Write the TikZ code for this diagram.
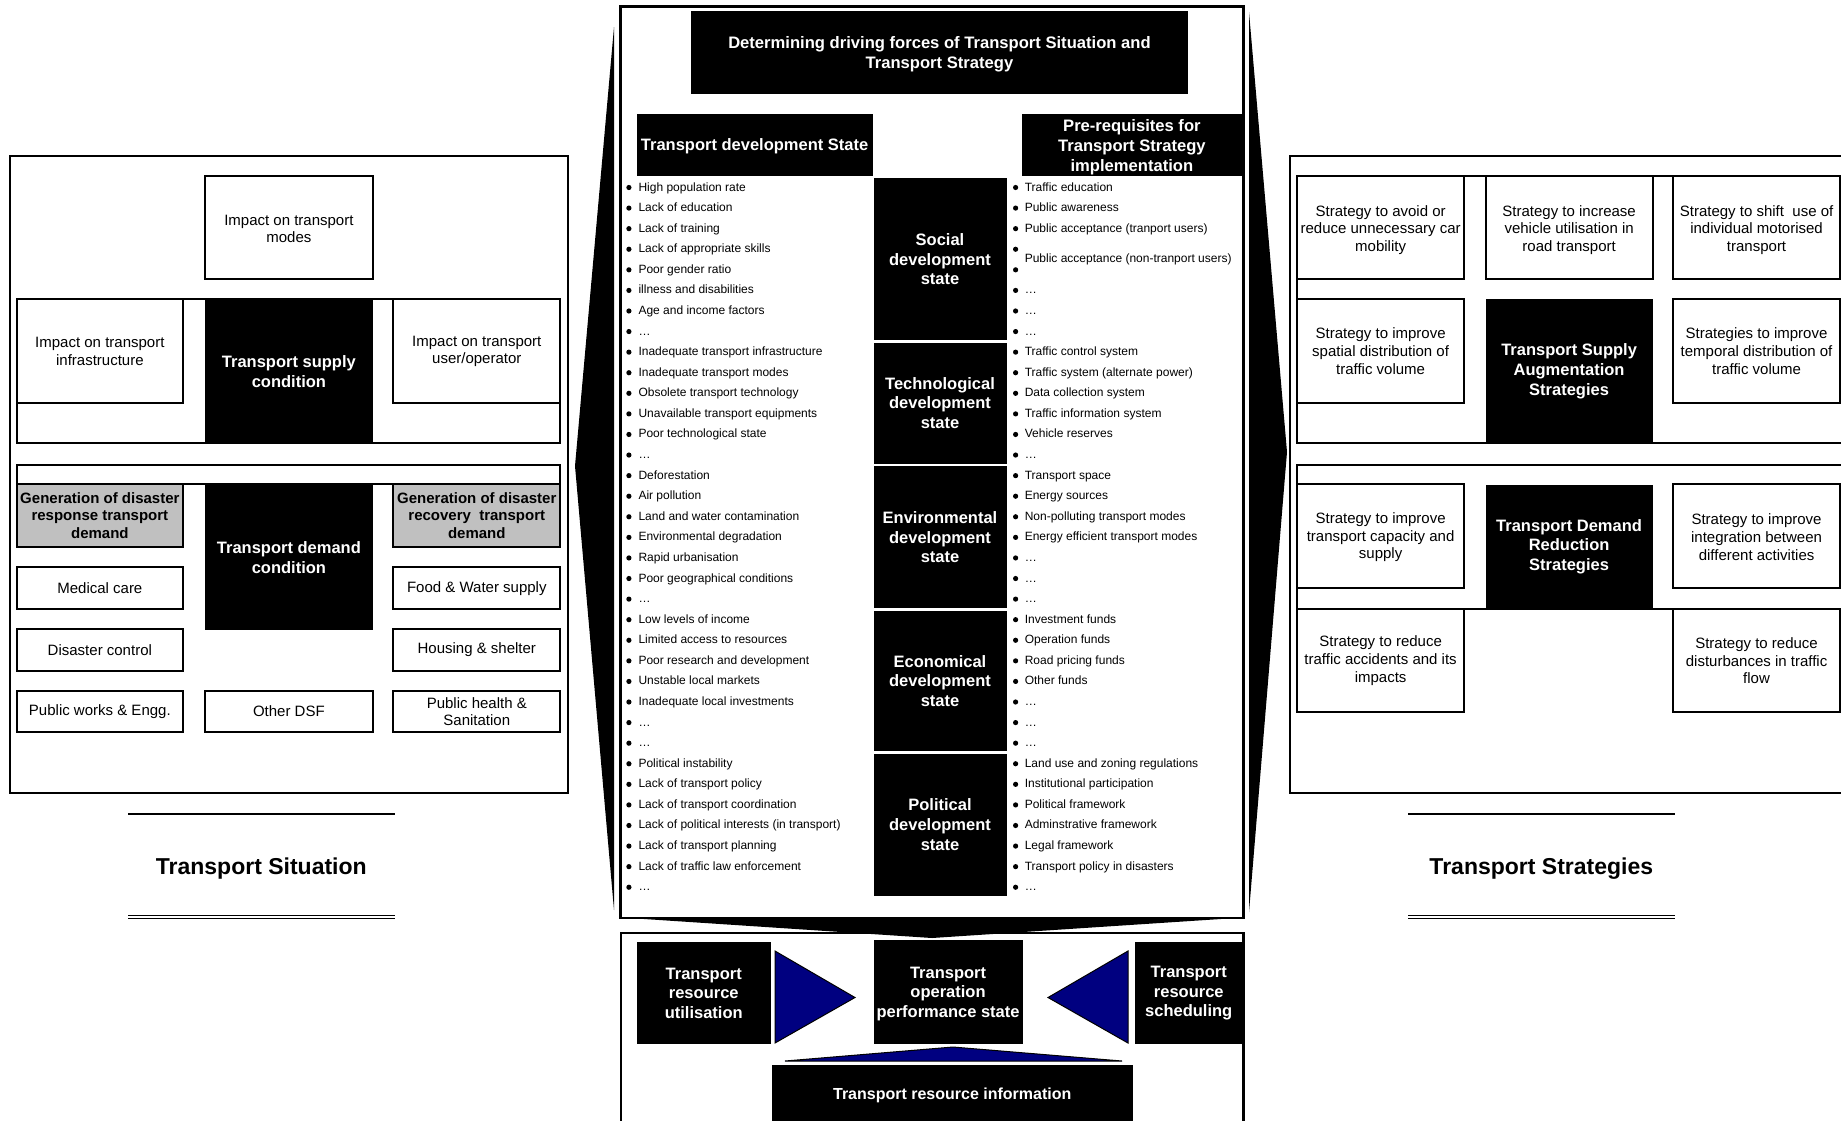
\documentclass[tikz,border=0pt]{standalone}
\usepackage{fontspec}
\setmainfont{Liberation Sans}
\definecolor{panelgray}{RGB}{192,192,192}
\definecolor{navyfill}{RGB}{0,0,128}
% box from corner (x2,y2) to (x3,y3): [text drop], style, name, x2, y2, x3, y3, text
\newcommand\boxat[8][0]{%
  \node[#2,minimum width={#6-#4},minimum height={#7-#5}] (#3) at ({(#4+#6)/2},{(#5+#7)/2}) {};
  \node[#2,draw=none,fill=none] (#3-text) at ([yshift=-#1pt]#3.center) {#8};}
\begin{document}
\begin{tikzpicture}[x=1pt,y=-1pt,
  panel/.style={draw=black,line width=2pt},
  wbox/.style={draw=black,line width=2pt,fill=white,inner sep=0.5pt,align=center,font=\fontsize{15}{17.7}\selectfont},
  bbox/.style={fill=black,text=white,inner sep=0.5pt,align=center,font=\bfseries\fontsize{16.5}{19.6}\selectfont},
  gbox/.style={wbox,fill=panelgray,font=\bfseries\fontsize{15}{17.3}\selectfont},
  listitem/.style={anchor=base west,inner sep=0pt,font=\fontsize{12}{14}\selectfont},
  bulletdot/.style={circle,fill=black,inner sep=0pt,minimum size=5.2pt},
  bluewedge/.style={fill=navyfill,draw=black,line width=1pt,line join=miter},
  heading/.style={anchor=base,inner sep=0pt,font=\bfseries\fontsize{23}{27}\selectfont},
  headrule/.style={draw=black,line width=1.3pt},
]
\useasboundingbox (0,0) rectangle (1841,1120);
\clip (0,0) rectangle (1841,1120);
\fill[white] (0,0) rectangle (1841,1120);

% ---------------- Transport situation (left panel) ----------------
\draw[panel] (10.4,155.7) rectangle (567.8,793.3);
\draw[panel] (16.6,299.3) rectangle (560.4,443.3);
\draw[panel] (16.6,465) rectangle (560.4,484.3);
\boxat[1.2]{wbox}{modes}{205.3}{176}{372.5}{279.3}{Impact on transport\\modes}
\boxat{wbox}{infra}{16.6}{299.3}{183.1}{403.3}{Impact on transport\\infrastructure}
\boxat{bbox}{supply}{205.3}{299.3}{372.5}{443.3}{Transport supply\\condition}
\boxat{wbox}{user}{393.2}{299.3}{560.4}{403.3}{Impact on transport\\user/operator}
\boxat{gbox}{response}{16.6}{484.3}{183.1}{546.7}{Generation of disaster\\response transport\\demand}
\boxat{bbox}{demand}{205.3}{485}{372.5}{630}{Transport demand\\condition}
\boxat{gbox}{recovery}{393.2}{484.3}{560.4}{546.7}{Generation of disaster\\recovery~ transport\\demand}
\boxat{wbox}{medical}{16.6}{567.3}{183.1}{609}{Medical care}
\boxat{wbox}{food}{393.2}{567.3}{560.4}{609}{Food \& Water supply}
\boxat{wbox}{control}{16.6}{629}{183.1}{670.7}{Disaster control}
\boxat{wbox}{housing}{393.2}{629}{560.4}{670.7}{Housing \& shelter}
\boxat{wbox}{works}{16.6}{690.7}{183.1}{732.3}{Public works \& Engg.}
\boxat{wbox}{otherdsf}{205.3}{690.7}{372.5}{732.3}{Other DSF}
\boxat{wbox}{health}{393.2}{690.7}{560.4}{732.3}{Public health \&\\Sanitation}

\draw[headrule] (128,814) -- (395,814);
\node[heading] (situation) at (261.3,874) {Transport Situation};
\draw[headrule,line width=1.1pt] (128,915.2) -- (395,915.2);
\draw[headrule,line width=1.1pt] (128,918.6) -- (395,918.6);

% ---------------- Transport strategies (right panel) ----------------
\draw[panel] (1290,155.5) rectangle (1860,793.3);
\draw[panel] (1297.2,176) rectangle (1860,443.3);
\draw[panel] (1297.2,465) rectangle (1860,609);
\boxat[2.2]{wbox}{avoid}{1297.2}{176}{1464}{279.3}{Strategy to avoid or\\reduce unnecessary car\\mobility}
\boxat[2.2]{wbox}{utilise}{1485.7}{176}{1652.5}{279.3}{Strategy to increase\\vehicle utilisation in\\road transport}
\boxat[2.2]{wbox}{shift}{1673.3}{176}{1839.8}{279.3}{Strategy to shift~ use of\\individual motorised\\transport}
\boxat{wbox}{spatial}{1297.2}{299.3}{1464}{403.3}{Strategy to improve\\spatial distribution of\\traffic volume}
\boxat{bbox}{augment}{1485.7}{299.3}{1652.5}{443.3}{Transport Supply\\Augmentation\\Strategies}
\boxat{wbox}{temporal}{1673.3}{299.3}{1839.8}{403.3}{Strategies to improve\\temporal distribution of\\traffic volume}
\boxat[1.2]{wbox}{capacity}{1297.2}{484.3}{1464}{587.7}{Strategy to improve\\transport capacity and\\supply}
\boxat{bbox}{reduction}{1485.7}{485}{1652.5}{608.3}{Transport Demand\\Reduction\\Strategies}
\boxat[1.2]{wbox}{integration}{1673.3}{484.3}{1839.8}{587.7}{Strategy to improve\\integration between\\different activities}
\boxat{wbox}{accidents}{1297.2}{609}{1464}{712.3}{Strategy to reduce\\traffic accidents and its\\impacts}
\boxat{wbox}{disturb}{1673.3}{609}{1839.8}{712.3}{Strategy to reduce\\disturbances in traffic\\flow}

\draw[headrule] (1408,814) -- (1674.6,814);
\node[heading] (strategies) at (1541.3,874) {Transport Strategies};
\draw[headrule,line width=1.1pt] (1408,915.2) -- (1674.6,915.2);
\draw[headrule,line width=1.1pt] (1408,918.6) -- (1674.6,918.6);

% ---------------- Driving forces (centre panel) ----------------
\fill[black] (614,27) -- (575,466) -- (614,910) -- cycle;
\fill[black] (1249,12) -- (1287,452) -- (1249,912) -- cycle;
\fill[black] (629,918) -- (1236,918) -- (932,938) -- cycle;

\boxat[1.8]{bbox,font=\bfseries\fontsize{16.6}{20}\selectfont}{title}{690.5}{11}{1188.4}{93.5}{Determining driving forces of Transport Situation and\\Transport Strategy}
\boxat[1]{bbox}{tds}{636.5}{114.3}{872.7}{176}{Transport development State}
\boxat[2.3]{bbox,font=\bfseries\fontsize{16.6}{20}\selectfont}{prereq}{1022}{114.3}{1241.8}{176}{Pre-requisites for\\Transport Strategy\\implementation}
\boxat{bbox}{social}{873.5}{178.3}{1006.5}{340.3}{Social\\development\\state}
\boxat{bbox}{techno}{873.5}{342.5}{1006.5}{463.5}{Technological\\development\\state}
\boxat{bbox}{environ}{873.5}{466}{1006.5}{608.3}{Environmental\\development\\state}
\boxat{bbox}{econ}{873.5}{610.5}{1006.5}{751}{Economical\\development\\state}
\boxat{bbox}{polit}{873.5}{753.5}{1006.5}{895.5}{Political\\development\\state}

% bulleted lists, one row every 20.58
\foreach \t [count=\i from 0] in {High population rate, Lack of education, Lack of training,
  Lack of appropriate skills, Poor gender ratio, illness and disabilities, Age and income factors, …,
  Inadequate transport infrastructure, Inadequate transport modes, Obsolete transport technology,
  Unavailable transport equipments, Poor technological state, …,
  Deforestation, Air pollution, Land and water contamination, Environmental degradation,
  Rapid urbanisation, Poor geographical conditions, …,
  Low levels of income, Limited access to resources, Poor research and development,
  Unstable local markets, Inadequate local investments, …, …,
  Political instability, Lack of transport policy, Lack of transport coordination,
  Lack of political interests (in transport), Lack of transport planning,
  Lack of traffic law enforcement, …} {
  \node[bulletdot] (LB\i) at (628.9,{186.7+20.58*\i+0.8}) {};
  \node[listitem] (L\i) at (638.3,{186.7+20.58*\i+4.3}) {\t};
}
\foreach \t [count=\i from 0] in {Traffic education, Public awareness, Public acceptance (tranport users), {}, {}, …, …, …,
  Traffic control system, Traffic system (alternate power), Data collection system,
  Traffic information system, Vehicle reserves, …,
  Transport space, Energy sources, Non-polluting transport modes, Energy efficient transport modes, …, …, …,
  Investment funds, Operation funds, Road pricing funds, Other funds, …, …, …,
  Land use and zoning regulations, Institutional participation, Political framework,
  Adminstrative framework, Legal framework, Transport policy in disasters, …} {
  \node[bulletdot] (RB\i) at (1015.6,{186.7+20.58*\i+0.8}) {};
  \node[listitem] (R\i) at (1024.6,{186.7+20.58*\i+4.3}) {\t};
}
\node[listitem] (R3text) at (1024.6,262) {Public acceptance (non-tranport users)};

\draw[panel,line width=2.4pt] (620.5,6.5) rectangle (1243.5,918);

% ---------------- Operation performance (bottom panel) ----------------
\draw[panel,line width=2.4pt] (621,933) rectangle (1243.3,1140);
\boxat{bbox}{util}{637}{942}{770.5}{1044.3}{Transport\\resource\\utilisation}
\boxat[1.5]{bbox}{perf}{873.6}{940}{1022.5}{1044.3}{Transport\\operation\\performance state}
\boxat{bbox}{sched}{1134.5}{942}{1243}{1044.3}{Transport\\resource\\scheduling}
\boxat{bbox,font=\bfseries\fontsize{16}{19}\selectfont}{info}{772}{1065}{1132.5}{1125}{Transport resource information}
\filldraw[bluewedge] (775,951) -- (855,997.5) -- (775,1043) -- cycle;
\filldraw[bluewedge] (1128,951) -- (1048,997.5) -- (1128,1043) -- cycle;
\filldraw[bluewedge] (785,1061) -- (953,1047) -- (1122,1061) -- cycle;
\end{tikzpicture}
\end{document}
